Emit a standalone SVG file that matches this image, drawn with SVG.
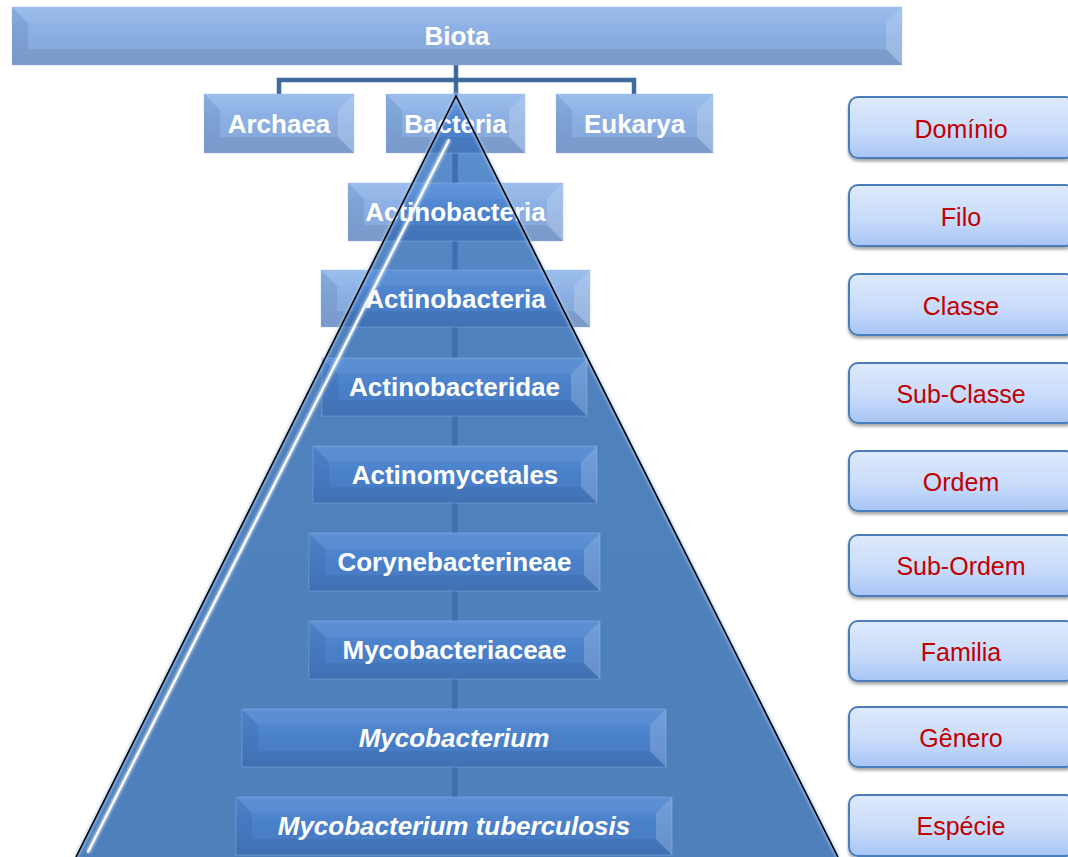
<svg xmlns="http://www.w3.org/2000/svg" width="1068" height="857" viewBox="0 0 1068 857">
<defs>
<linearGradient id="pyr" x1="0" y1="96" x2="0" y2="857" gradientUnits="userSpaceOnUse">
<stop offset="0" stop-color="#5e92d2"/>
<stop offset="0.3" stop-color="#4f81bd"/>
<stop offset="1" stop-color="#4e80bc"/>
</linearGradient>
<linearGradient id="face" x1="0" y1="0" x2="0" y2="1">
<stop offset="0" stop-color="#5893e2"/>
<stop offset="0.5" stop-color="#4880d0"/>
<stop offset="1" stop-color="#3f73bf"/>
</linearGradient>
<linearGradient id="lab" x1="0" y1="0" x2="0" y2="1">
<stop offset="0" stop-color="#dfeafc"/>
<stop offset="0.6" stop-color="#c6dafa"/>
<stop offset="1" stop-color="#a6c4f4"/>
</linearGradient>
<filter id="sh" x="-5%" y="-10%" width="115%" height="130%">
<feDropShadow dx="0" dy="2.5" stdDeviation="1.5" flood-color="#000" flood-opacity="0.35"/>
</filter>
<filter id="glow" x="-10%" y="-10%" width="120%" height="120%">
<feGaussianBlur stdDeviation="1.2"/>
</filter>
</defs>
<style>
.face{fill:url(#face);fill-opacity:0.64;stroke:#9dbdf0;stroke-opacity:0.4;stroke-width:1}
.bl{fill:#1e3a66;fill-opacity:0.11}
.bt{fill:#ffffff;fill-opacity:0.05}
.br{fill:#ffffff;fill-opacity:0.18}
.bb{fill:#1e3a66;fill-opacity:0.10}
.t{font-family:"Liberation Sans",Arial,sans-serif;font-weight:bold;font-size:26px;fill:#ffffff;text-anchor:middle}
.it{font-style:italic}
.lab rect{fill:url(#lab);stroke:#4a7ebb;stroke-width:2;filter:url(#sh)}
.lab text{font-family:"Liberation Sans",Arial,sans-serif;font-size:25px;fill:#c00000;text-anchor:middle}
.conn{fill:none;stroke:#3e6a9e;stroke-width:4.5}
.vconn{stroke:#406eaf;stroke-width:5.5}
</style>

<!-- pyramid body -->
<g id="pyramid">
<polygon points="456,96 76,857 838,857" fill="url(#pyr)"/>
</g>

<!-- connectors -->
<g id="connectors">
<path class="conn" d="M456,65 V80 M279,94 V80 H634 V94 M456,80 V96"/>
<g class="vconn">
<line x1="455" y1="153" x2="455" y2="183"/>
<line x1="455" y1="241" x2="455" y2="270"/>
<line x1="455" y1="327" x2="455" y2="358"/>
<line x1="455" y1="416" x2="455" y2="446"/>
<line x1="455" y1="503" x2="455" y2="533"/>
<line x1="455" y1="591" x2="455" y2="621"/>
<line x1="455" y1="679" x2="455" y2="709"/>
<line x1="455" y1="767" x2="455" y2="797"/>
</g>
</g>

<g id="n-biota">
<rect class="face" x="12" y="7" width="890" height="58"/>
<polygon class="bl" points="12,7 28,23 28,49 12,65"/>
<polygon class="bt" points="12,7 902,7 886,23 28,23"/>
<polygon class="br" points="902,7 902,65 886,49 886,23"/>
<polygon class="bb" points="12,65 28,49 886,49 902,65"/>
<text class="t" x="457" y="45">Biota</text>
</g>

<g id="n-archaea">
<rect class="face" x="204" y="94" width="150" height="59"/>
<polygon class="bl" points="204,94 220,110 220,137 204,153"/>
<polygon class="bt" points="204,94 354,94 338,110 220,110"/>
<polygon class="br" points="354,94 354,153 338,137 338,110"/>
<polygon class="bb" points="204,153 220,137 338,137 354,153"/>
<text class="t" x="279" y="132.5">Archaea</text>
</g>

<g id="n-bacteria">
<rect class="face" x="386" y="94" width="139" height="59"/>
<polygon class="bl" points="386,94 402,110 402,137 386,153"/>
<polygon class="bt" points="386,94 525,94 509,110 402,110"/>
<polygon class="br" points="525,94 525,153 509,137 509,110"/>
<polygon class="bb" points="386,153 402,137 509,137 525,153"/>
<text class="t" x="455.5" y="132.5">Bacteria</text>
</g>

<g id="n-eukarya">
<rect class="face" x="556" y="94" width="157" height="59"/>
<polygon class="bl" points="556,94 572,110 572,137 556,153"/>
<polygon class="bt" points="556,94 713,94 697,110 572,110"/>
<polygon class="br" points="713,94 713,153 697,137 697,110"/>
<polygon class="bb" points="556,153 572,137 697,137 713,153"/>
<text class="t" x="634.5" y="132.5">Eukarya</text>
</g>

<g id="n-filo">
<rect class="face" x="348" y="183" width="215" height="58"/>
<polygon class="bl" points="348,183 364,199 364,225 348,241"/>
<polygon class="bt" points="348,183 563,183 547,199 364,199"/>
<polygon class="br" points="563,183 563,241 547,225 547,199"/>
<polygon class="bb" points="348,241 364,225 547,225 563,241"/>
<text class="t" x="455.5" y="221">Actinobacteria</text>
</g>

<g id="n-classe">
<rect class="face" x="321" y="270" width="269" height="57"/>
<polygon class="bl" points="321,270 337,286 337,311 321,327"/>
<polygon class="bt" points="321,270 590,270 574,286 337,286"/>
<polygon class="br" points="590,270 590,327 574,311 574,286"/>
<polygon class="bb" points="321,327 337,311 574,311 590,327"/>
<text class="t" x="455.5" y="307.5">Actinobacteria</text>
</g>

<g id="n-subclasse">
<rect class="face" x="322" y="358" width="265" height="58"/>
<polygon class="bl" points="322,358 338,374 338,400 322,416"/>
<polygon class="bt" points="322,358 587,358 571,374 338,374"/>
<polygon class="br" points="587,358 587,416 571,400 571,374"/>
<polygon class="bb" points="322,416 338,400 571,400 587,416"/>
<text class="t" x="454.5" y="396">Actinobacteridae</text>
</g>

<g id="n-ordem">
<rect class="face" x="313" y="446" width="284" height="57"/>
<polygon class="bl" points="313,446 329,462 329,487 313,503"/>
<polygon class="bt" points="313,446 597,446 581,462 329,462"/>
<polygon class="br" points="597,446 597,503 581,487 581,462"/>
<polygon class="bb" points="313,503 329,487 581,487 597,503"/>
<text class="t" x="455" y="483.5">Actinomycetales</text>
</g>

<g id="n-subordem">
<rect class="face" x="309" y="533" width="291" height="58"/>
<polygon class="bl" points="309,533 325,549 325,575 309,591"/>
<polygon class="bt" points="309,533 600,533 584,549 325,549"/>
<polygon class="br" points="600,533 600,591 584,575 584,549"/>
<polygon class="bb" points="309,591 325,575 584,575 600,591"/>
<text class="t" x="454.5" y="571">Corynebacterineae</text>
</g>

<g id="n-familia">
<rect class="face" x="309" y="621" width="291" height="58"/>
<polygon class="bl" points="309,621 325,637 325,663 309,679"/>
<polygon class="bt" points="309,621 600,621 584,637 325,637"/>
<polygon class="br" points="600,621 600,679 584,663 584,637"/>
<polygon class="bb" points="309,679 325,663 584,663 600,679"/>
<text class="t" x="454.5" y="659">Mycobacteriaceae</text>
</g>

<g id="n-genero">
<rect class="face" x="242" y="709" width="424" height="58"/>
<polygon class="bl" points="242,709 258,725 258,751 242,767"/>
<polygon class="bt" points="242,709 666,709 650,725 258,725"/>
<polygon class="br" points="666,709 666,767 650,751 650,725"/>
<polygon class="bb" points="242,767 258,751 650,751 666,767"/>
<text class="t it" x="454" y="747">Mycobacterium</text>
</g>

<g id="n-especie">
<rect class="face" x="236" y="797" width="436" height="58"/>
<polygon class="bl" points="236,797 252,813 252,839 236,855"/>
<polygon class="bt" points="236,797 672,797 656,813 252,813"/>
<polygon class="br" points="672,797 672,855 656,839 656,813"/>
<polygon class="bb" points="236,855 252,839 656,839 672,855"/>
<text class="t it" x="454" y="835">Mycobacterium tuberculosis</text>
</g>

<!-- pyramid outline and highlight -->
<g id="pyramid-edge">
<polyline points="76,857 456,96 838,857" fill="none" stroke="#a9c6ee" stroke-width="5" stroke-opacity="0.6" filter="url(#glow)"/>
<polyline points="76,857 456,96 838,857" fill="none" stroke="#000000" stroke-width="1.6" stroke-linejoin="miter"/>
<line x1="449" y1="140" x2="88" y2="852" stroke="#ffffff" stroke-width="5" stroke-opacity="0.5" filter="url(#glow)"/>
<line x1="449" y1="140" x2="88" y2="852" stroke="#ffffff" stroke-width="2.2" stroke-linecap="round"/>
</g>

<g id="labels">
<g id="l-dominio" class="lab"><rect x="849" y="97" width="226" height="61" rx="9"/><text x="961" y="137.5">Domínio</text></g>
<g id="l-filo" class="lab"><rect x="849" y="185" width="226" height="61" rx="9"/><text x="961" y="225.5">Filo</text></g>
<g id="l-classe" class="lab"><rect x="849" y="274" width="226" height="61" rx="9"/><text x="961" y="314.5">Classe</text></g>
<g id="l-subclasse" class="lab"><rect x="849" y="363" width="226" height="60" rx="9"/><text x="961" y="402.5">Sub-Classe</text></g>
<g id="l-ordem" class="lab"><rect x="849" y="451" width="226" height="60" rx="9"/><text x="961" y="490.5">Ordem</text></g>
<g id="l-subordem" class="lab"><rect x="849" y="535" width="226" height="61" rx="9"/><text x="961" y="575">Sub-Ordem</text></g>
<g id="l-familia" class="lab"><rect x="849" y="621" width="226" height="60" rx="9"/><text x="961" y="660.5">Familia</text></g>
<g id="l-genero" class="lab"><rect x="849" y="707" width="226" height="60" rx="9"/><text x="961" y="746.5">Gênero</text></g>
<g id="l-especie" class="lab"><rect x="849" y="795" width="226" height="61" rx="9"/><text x="961" y="835">Espécie</text></g>
</g>
</svg>
